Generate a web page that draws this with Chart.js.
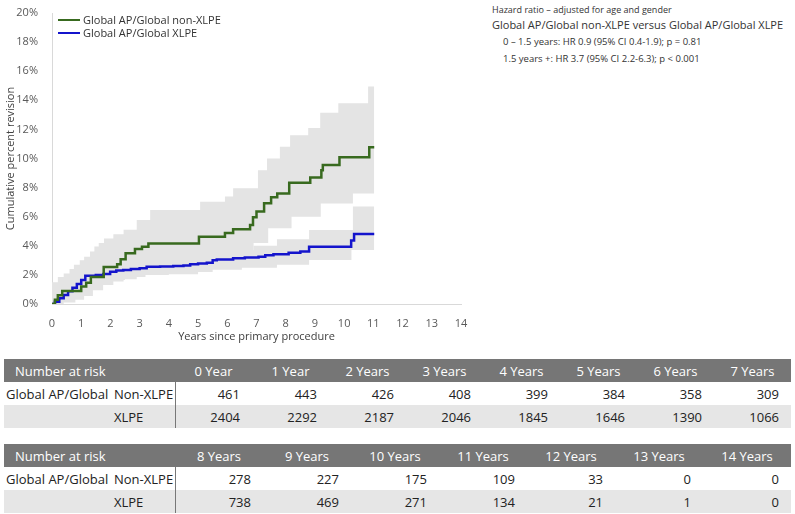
<!DOCTYPE html>
<html lang="en">
<head>
  <meta charset="UTF-8">
  <title>Cumulative percent revision</title>
  <style>
    body {
      margin: 0;
      padding: 0;
      width: 795px;
      height: 514px;
      background: #ffffff;
      font-family: 'Open Sans', sans-serif;
      position: relative;
      overflow: hidden;
    }

    #chartBox {
      position: absolute;
      left: 0;
      top: 0;
      width: 475px;
      height: 350px;
    }

    .legend {
      position: absolute;
      left: 58px;
      font-size: 11px;
      color: #333;
      line-height: 13px;
    }

    .legend span {
      display: inline-block;
      width: 22px;
      height: 2px;
      vertical-align: middle;
      margin-right: 3px;
      margin-top: -2px;
    }

    .note {
      position: absolute;
      white-space: nowrap;
      color: #333;
    }

    table {
      position: absolute;
      left: 4px;
      width: 787px;
      border-collapse: collapse;
      table-layout: fixed;
      font-size: 13px;
      color: #222;
    }

    table td, table th {
      height: 23px;
      padding: 0;
      white-space: nowrap;
    }

    table th {
      background: #767676;
      color: #fff;
      font-weight: normal;
      text-align: center;
    }

    table th.first {
      text-align: left;
      padding-left: 11px;
    }

    table td.num {
      text-align: right;
      padding-right: 12px;
    }

    table td.grp {
      padding-left: 2px;
    }

    table td.sub {
      border-right: 1px solid #777;
    }

    table tr.shade td {
      background: #e6e6e6;
    }
  </style>
</head>
<body>
  <div id="chartBox">
    <canvas id="revisionChart" width="475" height="350"></canvas>
  </div>

  <div class="legend" style="top:13px"><span style="background:#386a1f"></span>Global AP/Global non-XLPE</div>
  <div class="legend" style="top:26px"><span style="background:#1414cc"></span>Global AP/Global XLPE</div>

  <div class="note" style="left:492px; top:3px; font-size:9px">Hazard ratio – adjusted for age and gender</div>
  <div class="note" style="left:492px; top:17px; font-size:11px">Global AP/Global non-XLPE versus Global AP/Global XLPE</div>
  <div class="note" style="left:503px; top:35px; font-size:9.5px">0 – 1.5 years: HR 0.9 (95% CI 0.4-1.9); p = 0.81</div>
  <div class="note" style="left:503px; top:52px; font-size:9.5px">1.5 years +: HR 3.7 (95% CI 2.2-6.3); p &lt; 0.001</div>

  <table id="risk1" style="top:359px"></table>
  <table id="risk2" style="top:444px"></table>

  <script src="https://cdn.jsdelivr.net/npm/chart.js@4.4.0/dist/chart.umd.min.js"></script>
  <script>
    // Global AP/Global non-XLPE: cumulative revision (%) steps, value starts at time t
    const nonXlpeT = [0, 0.1, 0.2, 0.35, 1.0, 1.17, 1.33, 1.77, 2.23, 2.35, 2.52, 2.84, 3.08, 3.3, 5.03, 5.92, 6.2, 6.78, 6.88, 7.0, 7.26, 7.5, 7.71, 8.12, 8.84, 9.22, 9.27, 9.84, 10.86, 11.03];
    const nonXlpeV = [0, 0.3, 0.6, 0.9, 1.2, 1.46, 1.85, 2.55, 2.73, 3.07, 3.48, 3.78, 3.94, 4.15, 4.63, 4.88, 5.14, 5.43, 5.96, 6.35, 6.92, 7.33, 7.6, 8.33, 8.7, 9.2, 9.55, 10.08, 10.77, 10.77];
    const nonXlpeHiT = [0, 0.2, 0.4, 0.6, 0.75, 0.95, 1.1, 1.3, 1.45, 1.6, 1.78, 2.1, 2.45, 2.9, 3.36, 5.07, 5.92, 6.2, 7.05, 7.36, 7.8, 8.15, 8.77, 9.18, 9.8, 10.82, 11.03];
    const nonXlpeHiV = [1.5, 1.85, 2.1, 2.4, 2.7, 3.0, 3.25, 3.6, 3.95, 4.2, 4.5, 4.8, 5.1, 5.77, 6.46, 7.03, 7.38, 7.95, 9.2, 10.0, 10.8, 11.6, 12.1, 13.15, 13.8, 14.95, 14.95];
    const nonXlpeLoT = [0, 0.4, 0.8, 1.1, 1.4, 1.75, 2.1, 2.45, 2.9, 3.36, 5.0, 5.9, 6.9, 7.4, 8.2, 9.2, 10.3, 11.03];
    const nonXlpeLoV = [0, 0.1, 0.3, 0.55, 0.95, 1.3, 1.55, 1.7, 2.0, 2.15, 2.5, 3.3, 4.2, 5.2, 6.0, 6.9, 7.6, 7.6];

    // Global AP/Global XLPE
    const xlpeT = [0, 0.1, 0.25, 0.4, 0.55, 0.7, 0.85, 1.0, 1.14, 1.5, 1.76, 1.99, 2.2, 2.44, 2.7, 3.0, 3.24, 3.7, 4.15, 4.5, 4.73, 5.0, 5.3, 5.5, 5.64, 6.2, 6.6, 7.07, 7.3, 7.58, 8.1, 8.5, 8.8, 10.24, 10.34, 11.03];
    const xlpeV = [0, 0.15, 0.4, 0.62, 0.88, 1.12, 1.38, 1.65, 1.95, 2.0, 2.06, 2.22, 2.3, 2.34, 2.4, 2.45, 2.56, 2.58, 2.61, 2.65, 2.73, 2.78, 2.84, 3.0, 3.05, 3.14, 3.2, 3.25, 3.35, 3.42, 3.53, 3.6, 3.94, 4.36, 4.81, 4.81];
    const xlpeHiT = [0, 0.3, 0.6, 0.9, 1.15, 1.5, 2.0, 3.0, 4.0, 5.0, 6.0, 6.9, 7.7, 8.8, 10.3, 11.03];
    const xlpeHiV = [0.3, 0.8, 1.3, 1.8, 2.3, 2.5, 2.7, 2.95, 3.1, 3.4, 3.7, 4.0, 4.45, 5.08, 6.7, 6.7];
    const xlpeLoT = [0, 0.3, 0.6, 0.9, 1.15, 1.5, 2.0, 2.5, 3.2, 4.0, 5.0, 5.5, 6.5, 7.7, 8.8, 10.25, 11.03];
    const xlpeLoV = [0, 0.2, 0.45, 0.75, 1.25, 1.5, 1.65, 1.85, 2.0, 2.05, 2.2, 2.35, 2.5, 2.7, 3.02, 3.71, 3.71];

    // Number at risk
    const riskYears1 = ['0 Year', '1 Year', '2 Years', '3 Years', '4 Years', '5 Years', '6 Years', '7 Years'];
    const riskNonXlpe1 = [461, 443, 426, 408, 399, 384, 358, 309];
    const riskXlpe1 = [2404, 2292, 2187, 2046, 1845, 1646, 1390, 1066];
    const riskYears2 = ['8 Years', '9 Years', '10 Years', '11 Years', '12 Years', '13 Years', '14 Years'];
    const riskNonXlpe2 = [278, 227, 175, 109, 33, 0, 0];
    const riskXlpe2 = [738, 469, 271, 134, 21, 1, 0];

    const bandColor = '#e4e4e4';

    function pts(ts, vs) {
      return ts.map((t, i) => ({ x: t, y: vs[i] }));
    }

    function lineSet(label, ts, vs, color) {
      return {
        label: label,
        data: pts(ts, vs),
        borderColor: color,
        backgroundColor: color,
        borderWidth: 2.5,
        pointRadius: 0,
        stepped: 'before',
        fill: false
      };
    }

    function bandSet(ts, vs, fill) {
      return {
        label: '',
        data: pts(ts, vs),
        borderWidth: 0,
        borderColor: 'rgba(0,0,0,0)',
        backgroundColor: bandColor,
        pointRadius: 0,
        stepped: 'before',
        fill: fill
      };
    }

    const ctx = document.getElementById('revisionChart').getContext('2d');
    new Chart(ctx, {
      type: 'line',
      data: {
        datasets: [
          lineSet('Global AP/Global non-XLPE', nonXlpeT, nonXlpeV, '#386a1f'),
          lineSet('Global AP/Global XLPE', xlpeT, xlpeV, '#1414cc'),
          bandSet(nonXlpeHiT, nonXlpeHiV, '+1'),
          bandSet(nonXlpeLoT, nonXlpeLoV, false),
          bandSet(xlpeHiT, xlpeHiV, '+1'),
          bandSet(xlpeLoT, xlpeLoV, false)
        ]
      },
      options: {
        responsive: false,
        animation: false,
        layout: { padding: { left: 0, top: 13, right: 14, bottom: 0 } },
        plugins: {
          legend: { display: false },
          tooltip: { enabled: false }
        },
        scales: {
          x: {
            type: 'linear',
            min: 0,
            max: 14,
            grid: { display: false },
            border: { display: true, color: '#d9d9d9', width: 1 },
            ticks: { stepSize: 1, padding: 5, color: '#595959', font: { family: 'Open Sans', size: 11 } },
            title: {
              display: true,
              text: 'Years since primary procedure',
              color: '#404040',
              font: { family: 'Open Sans', size: 11 },
              padding: { top: 0, bottom: 7 }
            },
            afterFit: (axis) => { axis.height = 46; }
          },
          y: {
            min: 0,
            max: 20,
            grid: { display: false },
            border: { display: true, color: '#d9d9d9', width: 1 },
            ticks: {
              stepSize: 2,
              padding: 6,
              color: '#595959',
              font: { family: 'Open Sans', size: 11 },
              callback: (v) => v + '%'
            },
            title: {
              display: true,
              text: 'Cumulative percent revision',
              color: '#404040',
              font: { family: 'Open Sans', size: 11 },
              padding: { top: 4, bottom: 0 }
            },
            afterFit: (axis) => { axis.width = 52; }
          }
        }
      }
    });

    function buildRiskTable(id, years, nonXlpe, xlpe) {
      const tbl = document.getElementById(id);
      const colW = 616 / years.length;
      let html = '<colgroup><col style="width:110px"><col style="width:61px">';
      years.forEach(() => { html += '<col style="width:' + colW + 'px">'; });
      html += '</colgroup>';
      html += '<tr><th class="first" colspan="2">Number at risk</th>';
      years.forEach((y) => { html += '<th>' + y + '</th>'; });
      html += '</tr><tr><td class="grp">Global AP/Global</td><td class="sub">Non-XLPE</td>';
      nonXlpe.forEach((n) => { html += '<td class="num">' + n + '</td>'; });
      html += '</tr><tr class="shade"><td class="grp"></td><td class="sub">XLPE</td>';
      xlpe.forEach((n) => { html += '<td class="num">' + n + '</td>'; });
      html += '</tr>';
      tbl.innerHTML = html;
    }

    buildRiskTable('risk1', riskYears1, riskNonXlpe1, riskXlpe1);
    buildRiskTable('risk2', riskYears2, riskNonXlpe2, riskXlpe2);
  </script>
</body>
</html>
